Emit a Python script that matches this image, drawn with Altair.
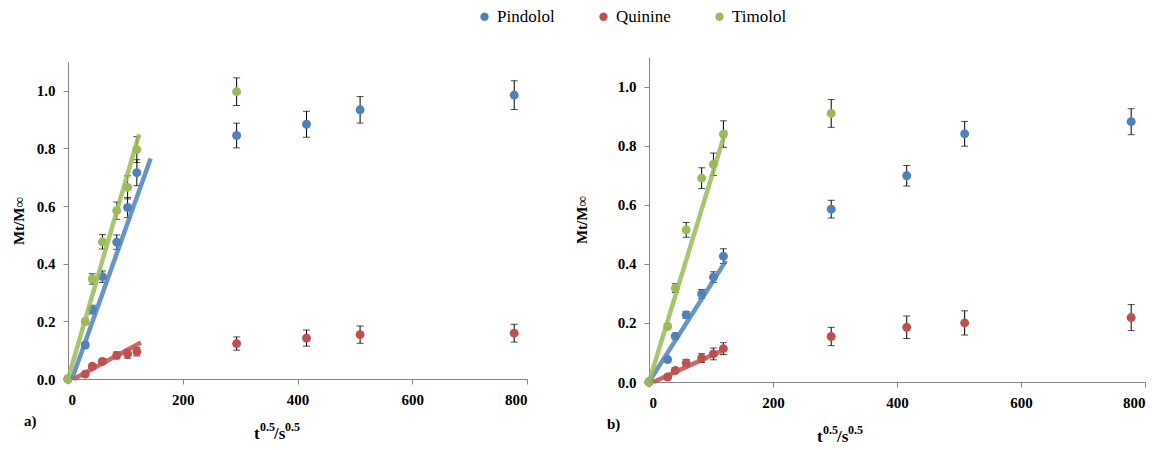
import altair as alt
import pandas as pd

# ---------------- data ----------------
times = [0, 30, 42.4, 60, 84.9, 103.9, 120, 293.9, 415.7, 509.1, 777.7]
series_names = ["Pindolol", "Quinine", "Timolol"]
colors = ["#4F81BD", "#C0504D", "#9BBB59"]

# panel a)
pind_a = [0, 0.118, 0.241, 0.355, 0.475, 0.595, 0.716, 0.845, 0.884, 0.934, 0.985]
pind_a_err = [0, 0.01, 0.015, 0.02, 0.025, 0.035, 0.045, 0.043, 0.045, 0.046, 0.05]
quin_a = [0, 0.017, 0.044, 0.061, 0.082, 0.087, 0.095, 0.123, 0.142, 0.154, 0.159]
quin_a_err = [0, 0.005, 0.008, 0.01, 0.012, 0.015, 0.015, 0.023, 0.028, 0.03, 0.031]
tim_a = [0, 0.199, 0.347, 0.476, 0.584, 0.665, 0.796, 0.997]
tim_a_err = [0, 0.01, 0.018, 0.025, 0.03, 0.04, 0.045, 0.048]

# panel b)
pind_b = [0, 0.076, 0.155, 0.227, 0.298, 0.355, 0.426, 0.585, 0.698, 0.84, 0.881]
pind_b_err = [0, 0.008, 0.01, 0.012, 0.015, 0.018, 0.025, 0.03, 0.035, 0.042, 0.044]
quin_b = [0, 0.017, 0.039, 0.064, 0.081, 0.095, 0.113, 0.154, 0.185, 0.2, 0.218]
quin_b_err = [0, 0.005, 0.008, 0.012, 0.015, 0.02, 0.02, 0.031, 0.038, 0.041, 0.044]
tim_b = [0, 0.188, 0.318, 0.515, 0.69, 0.737, 0.839, 0.909]
tim_b_err = [0, 0.01, 0.015, 0.025, 0.035, 0.038, 0.045, 0.047]

# linear trend lines (start / end)
trend_a_x0 = [7, 10, 0]
trend_a_x1 = [144, 127, 124]
trend_a_y0 = [0, 0, 0]
trend_a_y1 = [0.765, 0.127, 0.85]
trend_b_x0 = [0, 7, 0]
trend_b_x1 = [124, 125, 124]
trend_b_y0 = [0, 0, 0]
trend_b_y1 = [0.41, 0.113, 0.853]

x_ticks = [0, 200, 400, 600, 800]
y_ticks = [0, 0.2, 0.4, 0.6, 0.8, 1.0]


def points_df(vals, errs):
    rows = []
    for s, v_list, e_list in zip(series_names, vals, errs):
        for t, v, e in zip(times, v_list, e_list):
            rows.append({"series": s, "x": t, "y": v, "err": e, "lo": v - e, "hi": v + e})
    return pd.DataFrame(rows)


def trend_df(x0, x1, y0, y1):
    return pd.DataFrame({"series": series_names, "x0": x0, "x1": x1, "y0": y0, "y1": y1})


FONT = "Liberation Serif"
color_scale = alt.Scale(domain=series_names, range=colors)
legend = alt.Legend(
    title=None, orient="none", legendX=408, legendY=-49, direction="horizontal",
    labelFont=FONT, labelFontSize=17, labelColor="black", symbolType="circle",
    symbolSize=70, symbolStrokeWidth=0, columnPadding=40, labelOffset=4,
)

AXIS_STYLE = dict(
    labelFont=FONT, labelFontSize=15, labelFontWeight="bold", labelColor="black",
    domainColor="#868686", tickColor="#868686", tickSize=5, labelPadding=8,
    domainWidth=1, tickWidth=1, grid=False,
)


def panel(pts, tr, width, height, ytop, title_x, tag, xt_start):
    xscale = alt.Scale(domain=[0, 800], nice=False)
    yscale = alt.Scale(domain=[0, 1.1], nice=False, range=[height, ytop])
    xaxis = alt.Axis(values=x_ticks, title=None, format="d", **AXIS_STYLE)
    yaxis = alt.Axis(values=y_ticks, format=".1f", title="Mt/M\u221e",
                     titleX=title_x, titleFont=FONT, titleFontSize=15,
                     titleFontWeight="bold", titleColor="black", titleAngle=270,
                     **AXIS_STYLE)
    X = lambda f: alt.X(f, type="quantitative", scale=xscale, axis=xaxis)
    Y = lambda f: alt.Y(f, type="quantitative", scale=yscale, axis=yaxis)

    base = alt.Chart(pts)
    dots = base.mark_point(filled=True, size=80, opacity=1, shape="circle").encode(
        x=X("x"), y=Y("y"),
        color=alt.Color("series:N", scale=color_scale, legend=legend),
    )
    eb = base.transform_filter("datum.err > 0")
    bars = eb.mark_rule(color="black", strokeWidth=1).encode(x=X("x"), y=Y("lo"), y2="hi")
    cap_hi = eb.mark_tick(color="black", orient="horizontal", size=7, thickness=1).encode(x=X("x"), y=Y("hi"))
    cap_lo = eb.mark_tick(color="black", orient="horizontal", size=7, thickness=1).encode(x=X("x"), y=Y("lo"))
    lines = alt.Chart(tr).mark_rule(strokeWidth=4.5, opacity=0.85).encode(
        x=X("x0"), x2="x1", y=Y("y0"), y2="y1",
        stroke=alt.Stroke("series:N", scale=color_scale, legend=None),
    )
    one = alt.Chart(pd.DataFrame({"k": [0]}))
    base_y = height + 60
    txt = lambda s, dx, dy, size: one.mark_text(
        text=s, font=FONT, fontSize=size, fontWeight="bold", align="left",
        baseline="alphabetic", color="black"
    ).encode(x=alt.value(xt_start + dx), y=alt.value(base_y + dy))
    title_parts = [
        txt("t", 0, 0, 17),
        txt("0.5", 6, -8, 12),
        txt("/s", 20, 0, 17),
        txt("0.5", 31, -8, 12),
    ]
    tag_text = one.mark_text(
        text=tag, font=FONT, fontSize=15, fontWeight="bold", align="left",
        baseline="alphabetic", color="black"
    ).encode(x=alt.value(-44 if tag == "a)" else -42), y=alt.value(base_y - 13))
    return alt.layer(bars, cap_hi, cap_lo, dots, lines, *title_parts, tag_text).properties(
        width=width, height=height
    )


left = panel(points_df([pind_a, quin_a, tim_a], [pind_a_err, quin_a_err, tim_a_err]),
             trend_df(trend_a_x0, trend_a_x1, trend_a_y0, trend_a_y1),
             459, 322, 5, -42, "a)", 186)
right = panel(points_df([pind_b, quin_b, tim_b], [pind_b_err, quin_b_err, tim_b_err]),
              trend_df(trend_b_x0, trend_b_x1, trend_b_y0, trend_b_y1),
              496, 325, 0, -60, "b)", 168)

chart = alt.hconcat(left, right, spacing=122, bounds="flush").properties(
    padding={"left": 11, "top": 8, "right": 5, "bottom": 5}
).configure(font=FONT).configure_view(stroke=None).configure_axis(
    **AXIS_STYLE
).configure_legend(labelFont=FONT, labelFontSize=17)

chart.save("out.html", embed_options={"renderer": "svg", "actions": False})
